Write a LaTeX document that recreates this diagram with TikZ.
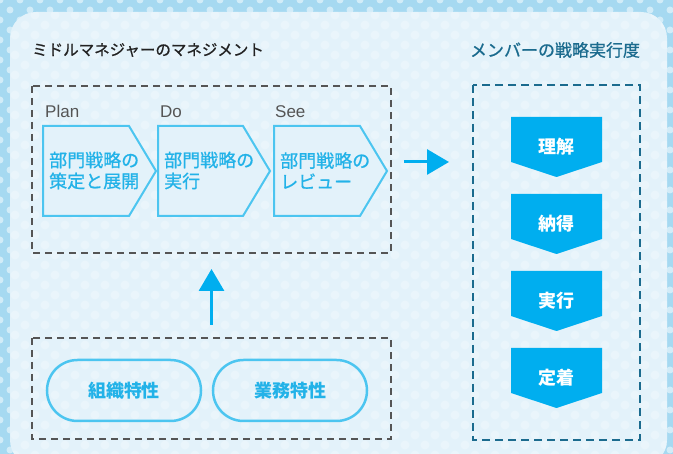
\documentclass[tikz,border=0pt]{standalone}
\usepackage{fontspec}
\setmainfont{Noto Sans CJK JP}
\newfontfamily\medfont[FakeBold=0.8]{Noto Sans CJK JP}
\newfontfamily\latinfont{Liberation Sans}
\usetikzlibrary{arrows.meta}
\definecolor{frameblue}{HTML}{A6D9F1}
\definecolor{panelbg}{HTML}{E3F2FA}
\definecolor{cyanline}{HTML}{4CC5F0}
\definecolor{cyantext}{HTML}{22B2E8}
\definecolor{arrowcyan}{HTML}{00AEEF}
\definecolor{darkteal}{HTML}{1B6B8E}
\definecolor{graydash}{HTML}{555555}
\definecolor{titledark}{HTML}{222222}
\tikzset{
  graybox/.style={draw=graydash, line width=1.3pt, dash pattern=on 7pt off 5pt},
  tealbox/.style={draw=darkteal, line width=2.5pt, dash pattern=on 8pt off 5pt},
  chev/.style={draw=cyanline, line width=2pt, fill=panelbg, line join=miter},
  chevtext/.style={anchor=west, inner sep=0pt, align=left, text=cyantext, font=\medfont\fontsize{18}{21}\selectfont},
  phase/.style={anchor=base west, inner sep=0pt, text=graydash, font=\latinfont\fontsize{17}{17}\selectfont},
  pill/.style={draw=cyanline, line width=2.5pt, minimum width=154pt, minimum height=61pt, rounded corners=30.5pt, text=cyantext, font=\bfseries\fontsize{18}{18}\selectfont},
  downbox/.style={fill=arrowcyan},
  downtext/.style={inner sep=0pt, text=white, font=\bfseries\fontsize{18}{18}\selectfont},
  bigarrow/.style={draw=arrowcyan, line width=3pt, -{Triangle[length=22pt,width=25pt]}},
}
\begin{document}
\begin{tikzpicture}[x=1pt,y=-1pt]
\useasboundingbox (0,0) rectangle (673,454);
\clip (0,0) rectangle (673,454);
% background frame with dots
\fill[frameblue] (0,0) rectangle (673,454);
\foreach \i in {0,...,34}{
  \foreach \j in {0,...,23}{
    \fill[white,opacity=.5] (\i*20,\j*20) circle (3.5);
    \fill[white,opacity=.5] (\i*20+10,\j*20+10) circle (3.5);
  }
}
% panel
\fill[panelbg, rounded corners=26pt] (10,12) rectangle (667,466);
\begin{scope}
\clip[rounded corners=26pt] (10,12) rectangle (667,466);
\foreach \i in {0,...,34}{
  \foreach \j in {0,...,23}{
    \fill[white,opacity=.28] (\i*20+5,\j*20+5) circle (4.5);
    \fill[white,opacity=.28] (\i*20+15,\j*20+15) circle (4.5);
  }
}
\end{scope}
% titles
\node[anchor=west, inner sep=0pt, text=titledark, font=\medfont\fontsize{15.5}{15.5}\selectfont] (t1) at (32,50) {ミドルマネジャーのマネジメント};
\node[inner sep=0pt, text=darkteal, font=\medfont\fontsize{17}{17}\selectfont] (t2) at (555,50) {メンバーの戦略実行度};
% left dashed box
\draw[graybox] (32,86) rectangle (391,253);
\node[phase] (plan) at (45,118) {Plan};
\node[phase] (do) at (160,118) {Do};
\node[phase] (see) at (275,118) {See};
\draw[chev] (43,126) -- (129,126) -- (156,171) -- (129,216) -- (43,216) -- cycle;
\draw[chev] (158,126) -- (243,126) -- (270,171) -- (243,216) -- (158,216) -- cycle;
\draw[chev] (274,126) -- (360,126) -- (387,171) -- (360,216) -- (274,216) -- cycle;
\node[chevtext] (c1) at (49,170.5) {部門戦略の\\策定と展開};
\node[chevtext] (c2) at (164,170.5) {部門戦略の\\実行};
\node[chevtext] (c3) at (280,170.5) {部門戦略の\\レビュー};
% bottom dashed box
\draw[graybox] (32,338) rectangle (391,439);
\node[pill] (p1) at (124,390.5) {組織特性};
\node[pill] (p2) at (290,390.5) {業務特性};
% arrows
\coordinate (ra1) at (404,162);
\coordinate (ra2) at (449,162);
\draw[bigarrow] (ra1) -- (ra2);
\coordinate (ua1) at (211.5,325);
\coordinate (ua2) at (211.5,269);
\draw[bigarrow] (ua1) -- (ua2);
% right dashed box
\draw[tealbox] (473,85) rectangle (640,440);
\foreach \n/\t/\txt in {d1/117/理解, d2/194/納得, d3/271/実行, d4/348/定着}{
  \fill[downbox] (511,\t) -- (602,\t) -- (602,\t+45) -- (556.5,\t+60) -- (511,\t+45) -- cycle;
  \node[downtext] (\n) at (556.5,\t+30) {\txt};
}
\end{tikzpicture}
\end{document}
